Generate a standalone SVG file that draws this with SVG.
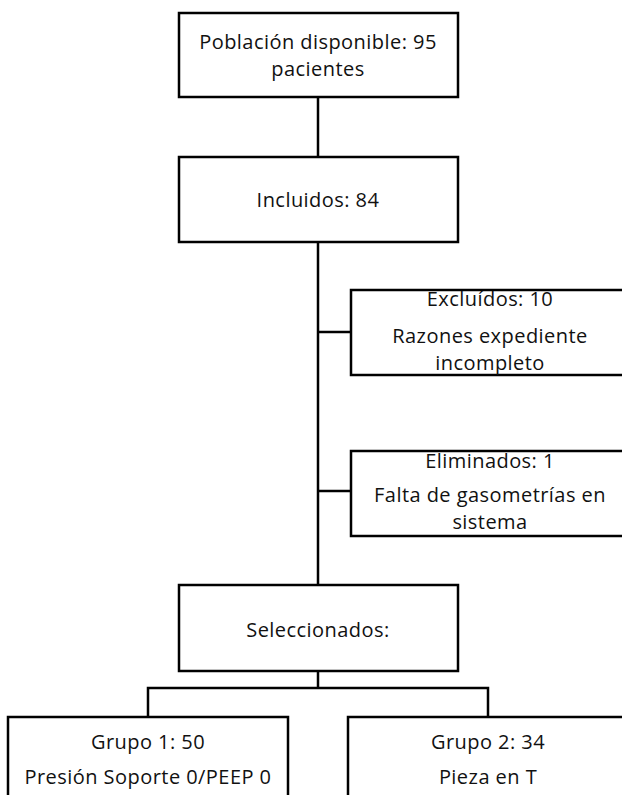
<svg xmlns="http://www.w3.org/2000/svg" width="622" height="795" viewBox="0 0 622 795">
<style>
.box{fill:#fff;stroke:#000;stroke-width:2.5}
.ln{fill:none;stroke:#000;stroke-width:2.5}
text{font-family:"Open Sans","Noto Sans","Liberation Sans",sans-serif;font-size:20px;letter-spacing:0.45px;fill:#111;text-anchor:middle}
</style>
<rect width="622" height="795" fill="#fff"/>
<g id="connectors">
<line class="ln" x1="318" y1="97" x2="318" y2="157"/>
<line class="ln" x1="318" y1="242" x2="318" y2="585"/>
<line class="ln" x1="318" y1="332" x2="351" y2="332"/>
<line class="ln" x1="318" y1="491" x2="351" y2="491"/>
<line class="ln" x1="318" y1="671" x2="318" y2="688"/>
<polyline class="ln" points="148,717 148,688 488,688 488,717"/>
</g>
<g id="poblacion">
<rect class="box" x="179" y="13" width="279" height="84"/>
<text x="318" y="49">Población disponible: 95</text>
<text x="318" y="76">pacientes</text>
</g>
<g id="incluidos">
<rect class="box" x="179" y="157" width="279" height="85"/>
<text x="318" y="207">Incluidos: 84</text>
</g>
<g id="excluidos">
<rect class="box" x="351" y="290" width="280" height="85"/>
<text x="490" y="306">Excluídos: 10</text>
<text x="490" y="343">Razones expediente</text>
<text x="490" y="370">incompleto</text>
</g>
<g id="eliminados">
<rect class="box" x="351" y="451" width="280" height="85"/>
<text x="490" y="468">Eliminados: 1</text>
<text x="490" y="502">Falta de gasometrías en</text>
<text x="490" y="529">sistema</text>
</g>
<g id="seleccionados">
<rect class="box" x="179" y="585" width="279" height="86"/>
<text x="318" y="637">Seleccionados:</text>
</g>
<g id="grupo1">
<rect class="box" x="8" y="717" width="280" height="100"/>
<text x="148" y="749">Grupo 1: 50</text>
<text x="148" y="784">Presión Soporte 0/PEEP 0</text>
</g>
<g id="grupo2">
<rect class="box" x="348" y="717" width="280" height="100"/>
<text x="488" y="749">Grupo 2: 34</text>
<text x="488" y="784">Pieza en T</text>
</g>
</svg>
